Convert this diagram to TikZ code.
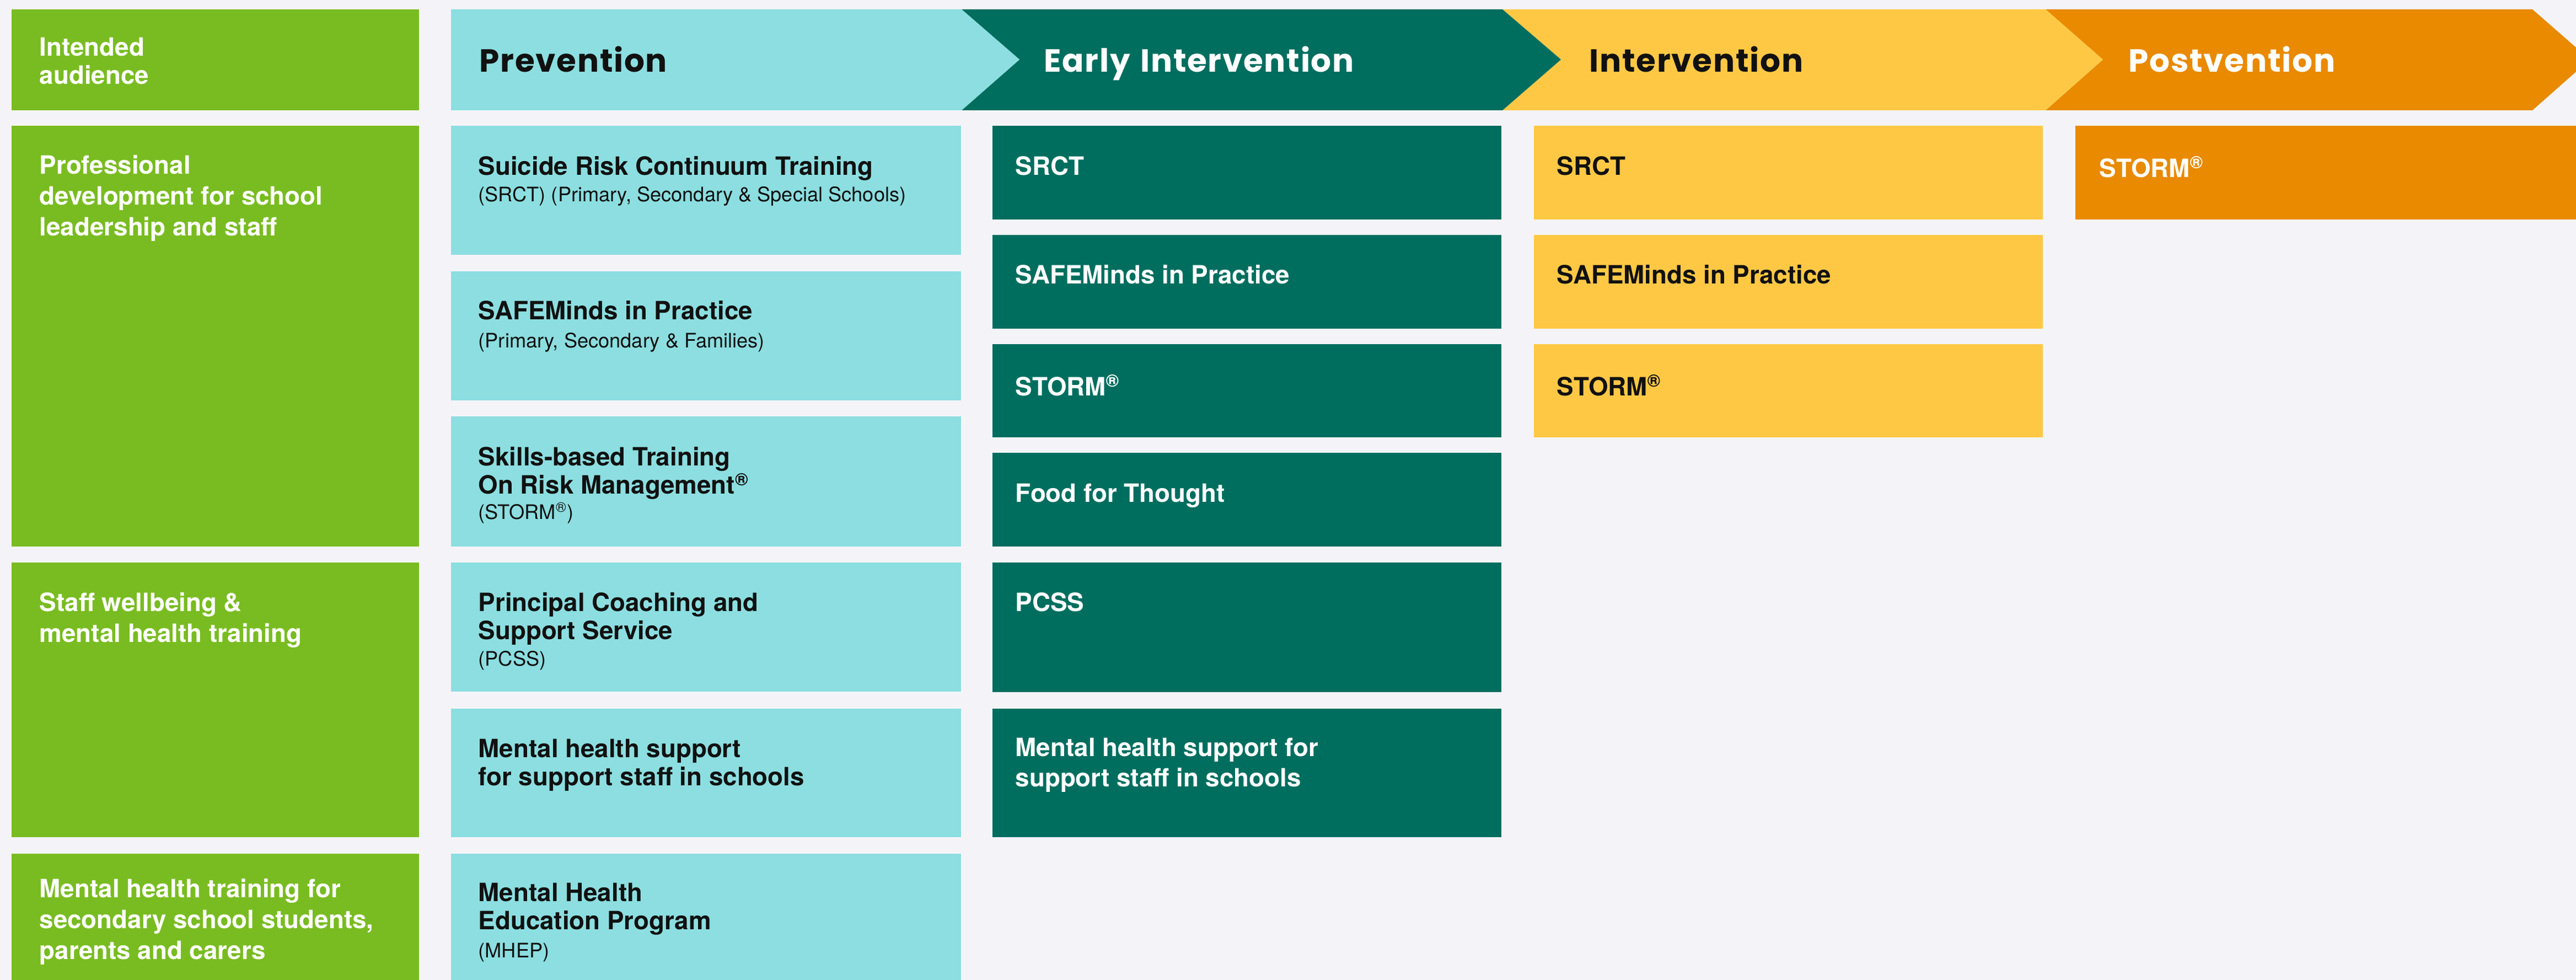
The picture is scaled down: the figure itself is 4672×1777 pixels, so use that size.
\documentclass[tikz,border=0pt]{standalone}
\usepackage{fontspec}
\setmainfont{TeX Gyre Heros}
\newfontfamily\headfont{Poppins}[LetterSpace=3,WordSpace=1.3]
\definecolor{cBg}{HTML}{F4F4F8}
\definecolor{cLime}{HTML}{79BC21}
\definecolor{cAqua}{HTML}{8CDEE0}
\definecolor{cTeal}{HTML}{006E5F}
\definecolor{cSun}{HTML}{FEC845}
\definecolor{cOrng}{HTML}{E98A00}
\definecolor{cInk}{HTML}{111111}
\newcommand\cell[6]{\node[cellbox, fill=#6, minimum width={(#4-#2)*0.01cm}, minimum height={(#5-#3)*0.01cm}] (#1) at (#2,#3) {};}
\newcommand\sub[1]{{\fontsize{10.3}{12}\mdseries\selectfont #1}}
\tikzset{
  cellbox/.style={inner sep=0pt, outer sep=0pt, anchor=north west, draw=none},
  hdrtext/.style={anchor=base west, inner sep=0pt, font=\headfont\bfseries\fontsize{16.5}{18}\selectfont},
  lefttext/.style={anchor=north west, inner sep=0pt, align=left, text=white, font=\bfseries\fontsize{13}{15.9}\selectfont},
  prevtext/.style={anchor=north west, inner sep=0pt, align=left, text=cInk, font=\bfseries\fontsize{13}{14.5}\selectfont},
  eitext/.style={anchor=north west, inner sep=0pt, align=left, text=white, font=\bfseries\fontsize{13}{15.9}\selectfont},
  inttext/.style={anchor=north west, inner sep=0pt, align=left, text=cInk, font=\bfseries\fontsize{13}{15.9}\selectfont},
}
\begin{document}
\begin{tikzpicture}[x=0.01cm, y=-0.01cm]
\fill[cBg] (0,0) rectangle (4672,1777);
\useasboundingbox (0,0) rectangle (4672,1777);
% header row
\cell{hA}{21}{17}{760}{200}{cLime}
\fill[cOrng] (3710,17) -- (4593,17) -- (4697,108) -- (4593,200) -- (3710,200) -- (3814,108) -- cycle;
\fill[cSun] (2725,17) -- (3710,17) -- (3814,108) -- (3710,200) -- (2725,200) -- (2831,108) -- cycle;
\fill[cTeal] (1744,17) -- (2725,17) -- (2831,108) -- (2725,200) -- (1744,200) -- (1849,108) -- cycle;
\fill[cAqua] (818,17) -- (1744,17) -- (1849,108) -- (1744,200) -- (818,200) -- cycle;
\node[lefttext, font=\bfseries\fontsize{13}{14.5}\selectfont] (tA) at ([xshift=0.5cm,yshift=-0.5cm]hA.north west) {Intended\\audience};
\node[hdrtext, text=cInk] (hP) at (869,131) {Prevention};
\node[hdrtext, text=white] (hE) at (1893,131) {Early Intervention};
\node[hdrtext, text=cInk] (hI) at (2882,131) {Intervention};
\node[hdrtext, text=white] (hO) at (3860,131) {Postvention};
% audience column
\cell{l1}{21}{228}{760}{991}{cLime}
\cell{l2}{21}{1020}{760}{1518}{cLime}
\cell{l3}{21}{1548}{760}{1777}{cLime}
\node[lefttext] (tl1) at ([xshift=0.5cm,yshift=-0.53cm]l1.north west) {Professional\\development for school\\leadership and staff};
\node[lefttext] (tl2) at ([xshift=0.5cm,yshift=-0.54cm]l2.north west) {Staff wellbeing \&\\mental health training};
\node[lefttext] (tl3) at ([xshift=0.5cm,yshift=-0.45cm]l3.north west) {Mental health training for\\secondary school students,\\parents and carers};
% prevention column
\cell{p1}{818}{228}{1743}{462}{cAqua}
\cell{p2}{818}{492}{1743}{726}{cAqua}
\cell{p3}{818}{755}{1743}{991}{cAqua}
\cell{p4}{818}{1020}{1743}{1254}{cAqua}
\cell{p5}{818}{1285}{1743}{1518}{cAqua}
\cell{p6}{818}{1548}{1743}{1777}{cAqua}
\node[prevtext] (tp1) at ([xshift=0.49cm,yshift=-0.55cm]p1.north west) {Suicide Risk Continuum Training\\[-0.8pt]\sub{(SRCT) (Primary, Secondary \& Special Schools)}};
\node[prevtext] (tp2) at ([xshift=0.49cm,yshift=-0.53cm]p2.north west) {SAFEMinds in Practice\\[0pt]\sub{(Primary, Secondary \& Families)}};
\node[prevtext] (tp3) at ([xshift=0.49cm,yshift=-0.55cm]p3.north west) {Skills-based Training\\On Risk Management\textsuperscript{®}\\[-1.5pt]\sub{(STORM\textsuperscript{®})}};
\node[prevtext] (tp4) at ([xshift=0.49cm,yshift=-0.54cm]p4.north west) {Principal Coaching and\\Support Service\\[-0.8pt]\sub{(PCSS)}};
\node[prevtext] (tp5) at ([xshift=0.49cm,yshift=-0.54cm]p5.north west) {Mental health support\\for support staff in schools};
\node[prevtext] (tp6) at ([xshift=0.49cm,yshift=-0.52cm]p6.north west) {Mental Health\\Education Program\\[0pt]\sub{(MHEP)}};
% early intervention column
\cell{e1}{1800}{228}{2723}{398}{cTeal}
\cell{e2}{1800}{426}{2723}{596}{cTeal}
\cell{e3}{1800}{624}{2723}{793}{cTeal}
\cell{e4}{1800}{821}{2723}{991}{cTeal}
\cell{e5}{1800}{1020}{2723}{1255}{cTeal}
\cell{e6}{1800}{1285}{2723}{1518}{cTeal}
\node[eitext] (te1) at ([xshift=0.41cm,yshift=-0.55cm]e1.north west) {SRCT};
\node[eitext] (te2) at ([xshift=0.41cm,yshift=-0.54cm]e2.north west) {SAFEMinds in Practice};
\node[eitext] (te3) at ([xshift=0.41cm,yshift=-0.55cm]e3.north west) {STORM\textsuperscript{®}};
\node[eitext] (te4) at ([xshift=0.41cm,yshift=-0.55cm]e4.north west) {Food for Thought};
\node[eitext] (te5) at ([xshift=0.41cm,yshift=-0.54cm]e5.north west) {PCSS};
\node[eitext] (te6) at ([xshift=0.41cm,yshift=-0.52cm]e6.north west) {Mental health support for\\support staff in schools};
% intervention column
\cell{i1}{2782}{228}{3705}{398}{cSun}
\cell{i2}{2782}{426}{3705}{596}{cSun}
\cell{i3}{2782}{624}{3705}{793}{cSun}
\node[inttext] (ti1) at ([xshift=0.41cm,yshift=-0.55cm]i1.north west) {SRCT};
\node[inttext] (ti2) at ([xshift=0.41cm,yshift=-0.54cm]i2.north west) {SAFEMinds in Practice};
\node[inttext] (ti3) at ([xshift=0.41cm,yshift=-0.55cm]i3.north west) {STORM\textsuperscript{®}};
% postvention column
\cell{o1}{3764}{228}{4672}{398}{cOrng}
\node[eitext] (to1) at ([xshift=0.43cm,yshift=-0.55cm]o1.north west) {STORM\textsuperscript{®}};
\end{tikzpicture}
\end{document}
